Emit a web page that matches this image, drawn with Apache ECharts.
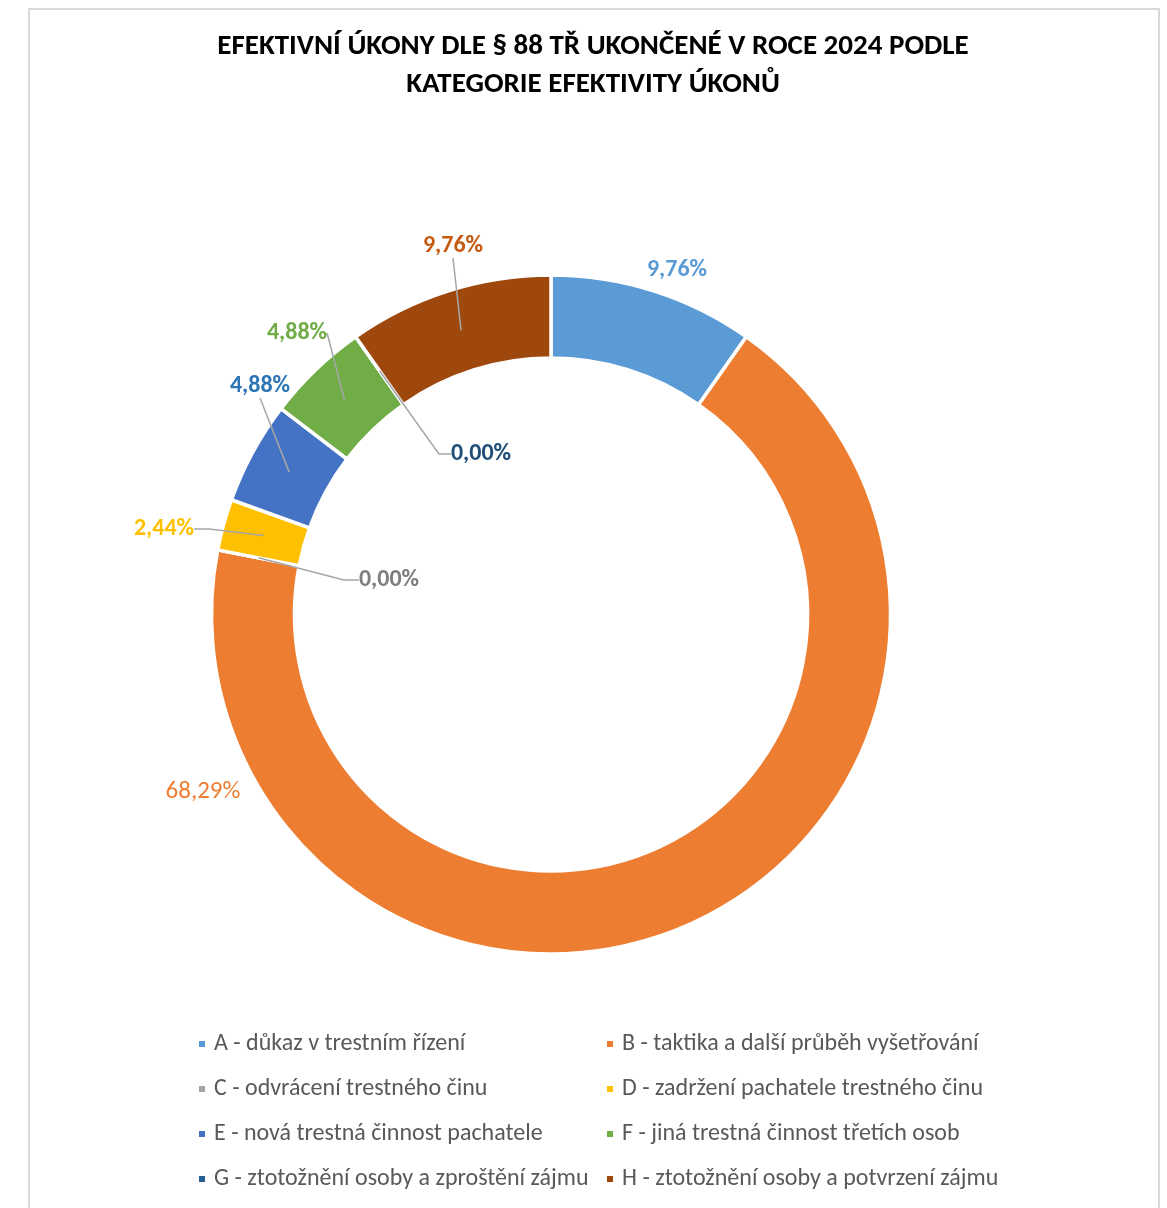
<!DOCTYPE html>
<html>
<head>
<meta charset="utf-8">
<script src="https://cdn.jsdelivr.net/npm/echarts@6/dist/echarts.min.js"></script>
<style>
  html, body { margin: 0; padding: 0; background: #ffffff; }
  #frame { position: absolute; left: 28px; top: 8px; width: 1132px; height: 1230px; border: 2px solid #d9d9d9; box-sizing: border-box; }
  #chart { position: absolute; left: 0; top: 0; width: 1167px; height: 1208px; }
</style>
</head>
<body>
<div id="frame"></div>
<div id="chart"></div>
<script>
const titleText = 'EFEKTIVNÍ ÚKONY DLE § 88 TŘ UKONČENÉ V ROCE 2024 PODLE\nKATEGORIE EFEKTIVITY ÚKONŮ';
const categories = [
  'A - důkaz v trestním řízení',
  'B - taktika a další průběh vyšetřování',
  'C - odvrácení trestného činu',
  'D - zadržení pachatele trestného činu',
  'E - nová trestná činnost pachatele',
  'F - jiná trestná činnost třetích osob',
  'G - ztotožnění osoby a zproštění zájmu',
  'H - ztotožnění osoby a potvrzení zájmu'
];
const values = [4, 28, 0, 1, 2, 2, 0, 4];
const sliceColors = ['#5B9BD5', '#ED7D31', '#A5A5A5', '#FFC000', '#4472C4', '#70AD47', '#255E91', '#9E480E'];
const labelColors = ['#5B9BD5', '#ED7D31', '#7F7F7F', '#FFC000', '#2E75B6', '#70AD47', '#1F4E79', '#C55A11'];
const total = values.reduce((a, b) => a + b, 0);

// label placement (style / layout, not data)
const labelPlace = [
  { x: 677, y: 270, line: false, len2: 0, bold: true },
  { x: 203, y: 792, line: false, len2: 0, bold: false },
  { x: 389, y: 580, line: true, len2: 15, bold: true },
  { x: 164, y: 529, line: true, len2: 15, bold: true },
  { x: 260, y: 386, line: true, len2: 0, bold: true },
  { x: 297, y: 333, line: true, len2: 0, bold: true },
  { x: 481, y: 454, line: true, len2: 12, bold: true },
  { x: 453, y: 246, line: true, len2: 0, bold: true }
];

const FONT = "Carlito, Calibri, 'Liberation Sans', Arial, sans-serif";
const chart = echarts.init(document.getElementById('chart'), null, { renderer: 'canvas' });

const ringData = categories.map((c, i) => ({ name: c, value: values[i], itemStyle: { color: sliceColors[i] } }));
const labelData = categories.map((c, i) => ({
  name: c,
  value: values[i],
  label: {
    color: labelColors[i],
    fontWeight: labelPlace[i].bold ? 'bold' : 'normal',
    fontSize: labelPlace[i].bold ? 24 : 25
  },
  labelLine: { show: labelPlace[i].line, length: 10, length2: labelPlace[i].len2 }
}));

const leftIdx = [0, 2, 4, 6];
const rightIdx = [1, 3, 5, 7];
const legendCommon = {
  orient: 'vertical',
  top: 1030,
  padding: 0,
  icon: 'rect',
  itemWidth: 8,
  itemHeight: 8,
  itemGap: 17,
  selectedMode: false,
  textStyle: { fontFamily: FONT, fontSize: 24, color: '#595959', lineHeight: 28, padding: [0, 0, 0, 3] }
};

chart.setOption({
  animation: false,
  title: {
    text: titleText,
    left: 593,
    top: 28,
    textAlign: 'center',
    padding: 0,
    textStyle: { fontFamily: FONT, fontSize: 29, fontWeight: 'bold', color: '#000000', lineHeight: 38 }
  },
  legend: [
    Object.assign({}, legendCommon, {
      left: 197,
      data: leftIdx.map(i => ({ name: categories[i], itemStyle: { color: sliceColors[i] } }))
    }),
    Object.assign({}, legendCommon, {
      left: 605,
      data: rightIdx.map(i => ({ name: categories[i], itemStyle: { color: sliceColors[i] } }))
    })
  ],
  series: [
    {
      type: 'pie',
      center: [551, 614.5],
      radius: [256.5, 339.5],
      startAngle: 90,
      clockwise: true,
      silent: true,
      label: { show: false },
      labelLine: { show: false },
      itemStyle: { borderColor: '#ffffff', borderWidth: 3.5 },
      emphasis: { disabled: true },
      data: ringData
    },
    {
      type: 'pie',
      center: [551, 614.5],
      radius: [0, 298],
      startAngle: 90,
      clockwise: true,
      silent: true,
      z: 5,
      avoidLabelOverlap: false,
      itemStyle: { color: 'rgba(0,0,0,0)', borderWidth: 0 },
      emphasis: { disabled: true },
      label: {
        show: true,
        position: 'outside',
        fontFamily: FONT,
        formatter: p => (p.value / total * 100).toFixed(2).replace('.', ',') + '%'
      },
      labelLine: { show: true, lineStyle: { color: '#A6A6A6', width: 1.5 } },
      labelLayout: params => {
        const lp = labelPlace[params.dataIndex];
        return { x: lp.x, y: lp.y, align: 'center', verticalAlign: 'middle' };
      },
      data: labelData
    }
  ]
});
</script>
</body>
</html>
